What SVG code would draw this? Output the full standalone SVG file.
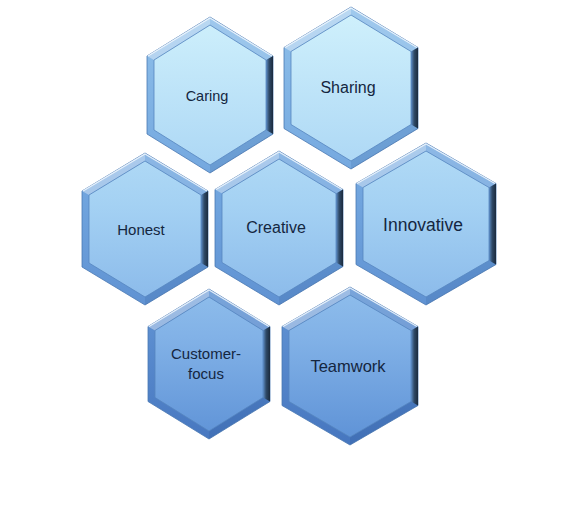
<svg xmlns="http://www.w3.org/2000/svg" width="587" height="511" viewBox="0 0 587 511">
<defs>
<linearGradient id="g" gradientUnits="userSpaceOnUse" x1="0" y1="10" x2="0" y2="445">
<stop offset="0" stop-color="#d0f1fc"/>
<stop offset="0.45" stop-color="#a4d1f3"/>
<stop offset="0.75" stop-color="#82b2e7"/>
<stop offset="1" stop-color="#5d91d6"/>
</linearGradient>
<linearGradient id="gb" gradientUnits="userSpaceOnUse" x1="0" y1="10" x2="0" y2="445">
<stop offset="0" stop-color="#8fc0ea"/>
<stop offset="0.45" stop-color="#6fa3dd"/>
<stop offset="0.75" stop-color="#5b8dcf"/>
<stop offset="1" stop-color="#4676bf"/>
</linearGradient>
<linearGradient id="rg" x1="0" y1="0" x2="1" y2="0">
<stop offset="0" stop-color="#5f8fc8"/>
<stop offset="0.45" stop-color="#2f4a68"/>
<stop offset="1" stop-color="#1a2a3d"/>
</linearGradient>
</defs>
<style>
.o{fill:url(#gb);stroke:#4a79b2;stroke-width:0.8}
.tl{fill:#ffffff;fill-opacity:0.38}
.tr{fill:#ffffff;fill-opacity:0.15}
.r{fill:url(#rg)}
.br{fill:#16407a;fill-opacity:0.12}
.in{fill:url(#g);stroke:#5585bf;stroke-width:0.8}
.hl{fill:none;stroke:#f2f9ff;stroke-width:1.3;stroke-opacity:0.85}
.t{font-family:"Liberation Sans",Arial,sans-serif;fill:#142640;text-anchor:middle}
</style>
<rect width="587" height="511" fill="#ffffff"/>
<g id="connectors"/>
<g id="node-caring">
<polygon class="o" points="210,17 273,56 273,134 210,173 147,134 147,56"/>
<polygon class="tl" points="147,56 210,17 210,25 154,60"/>
<polygon class="tr" points="210,17 273,56 266,60 210,25"/>
<polygon class="r" points="266,60 273,56 273,134 266,130"/>
<polygon class="br" points="266,130 273,134 210,173 210,165"/>
<polygon class="in" points="210,25 266,60 266,130 210,165 154,130 154,60"/>
<polyline class="hl" points="148,56 210,18 272,56"/>
<text class="t" x="207" y="101" font-size="14.5">Caring</text>
</g>
<g id="node-sharing">
<polygon class="o" points="351,7 418,47.5 418,128.5 351,169 284,128.5 284,47.5"/>
<polygon class="tl" points="284,47.5 351,7 351,15 291,51.5"/>
<polygon class="tr" points="351,7 418,47.5 411,51.5 351,15"/>
<polygon class="r" points="411,51.5 418,47.5 418,128.5 411,124.5"/>
<polygon class="br" points="411,124.5 418,128.5 351,169 351,161"/>
<polygon class="in" points="351,15 411,51.5 411,124.5 351,161 291,124.5 291,51.5"/>
<polyline class="hl" points="285,47.5 351,8 417,47.5"/>
<text class="t" x="348" y="93" font-size="16">Sharing</text>
</g>
<g id="node-honest">
<polygon class="o" points="145,153 208,191 208,267 145,305 82,267 82,191"/>
<polygon class="tl" points="82,191 145,153 145,161 89,195"/>
<polygon class="tr" points="145,153 208,191 201,195 145,161"/>
<polygon class="r" points="201,195 208,191 208,267 201,263"/>
<polygon class="br" points="201,263 208,267 145,305 145,297"/>
<polygon class="in" points="145,161 201,195 201,263 145,297 89,263 89,195"/>
<polyline class="hl" points="83,191 145,154 207,191"/>
<text class="t" x="141" y="235" font-size="15">Honest</text>
</g>
<g id="node-creative">
<polygon class="o" points="279,151 343,189.5 343,266.5 279,305 215,266.5 215,189.5"/>
<polygon class="tl" points="215,189.5 279,151 279,159 222,193.5"/>
<polygon class="tr" points="279,151 343,189.5 336,193.5 279,159"/>
<polygon class="r" points="336,193.5 343,189.5 343,266.5 336,262.5"/>
<polygon class="br" points="336,262.5 343,266.5 279,305 279,297"/>
<polygon class="in" points="279,159 336,193.5 336,262.5 279,297 222,262.5 222,193.5"/>
<polyline class="hl" points="216,189.5 279,152 342,189.5"/>
<text class="t" x="276" y="233" font-size="16">Creative</text>
</g>
<g id="node-innovative">
<polygon class="o" points="426,143 496,183.5 496,264.5 426,305 356,264.5 356,183.5"/>
<polygon class="tl" points="356,183.5 426,143 426,151 363,187.5"/>
<polygon class="tr" points="426,143 496,183.5 489,187.5 426,151"/>
<polygon class="r" points="489,187.5 496,183.5 496,264.5 489,260.5"/>
<polygon class="br" points="489,260.5 496,264.5 426,305 426,297"/>
<polygon class="in" points="426,151 489,187.5 489,260.5 426,297 363,260.5 363,187.5"/>
<polyline class="hl" points="357,183.5 426,144 495,183.5"/>
<text class="t" x="423" y="231" font-size="17.5">Innovative</text>
</g>
<g id="node-customer-focus">
<polygon class="o" points="209,289 270,326.5 270,401.5 209,439 148,401.5 148,326.5"/>
<polygon class="tl" points="148,326.5 209,289 209,297 155,330.5"/>
<polygon class="tr" points="209,289 270,326.5 263,330.5 209,297"/>
<polygon class="r" points="263,330.5 270,326.5 270,401.5 263,397.5"/>
<polygon class="br" points="263,397.5 270,401.5 209,439 209,431"/>
<polygon class="in" points="209,297 263,330.5 263,397.5 209,431 155,397.5 155,330.5"/>
<polyline class="hl" points="149,326.5 209,290 269,326.5"/>
<text class="t" x="206" y="359" font-size="15">Customer-</text>
<text class="t" x="206" y="379" font-size="15">focus</text>
</g>
<g id="node-teamwork">
<polygon class="o" points="350,287 418,326.5 418,405.5 350,445 282,405.5 282,326.5"/>
<polygon class="tl" points="282,326.5 350,287 350,295 289,330.5"/>
<polygon class="tr" points="350,287 418,326.5 411,330.5 350,295"/>
<polygon class="r" points="411,330.5 418,326.5 418,405.5 411,401.5"/>
<polygon class="br" points="411,401.5 418,405.5 350,445 350,437"/>
<polygon class="in" points="350,295 411,330.5 411,401.5 350,437 289,401.5 289,330.5"/>
<polyline class="hl" points="283,326.5 350,288 417,326.5"/>
<text class="t" x="348" y="372" font-size="16.5">Teamwork</text>
</g>
</svg>
